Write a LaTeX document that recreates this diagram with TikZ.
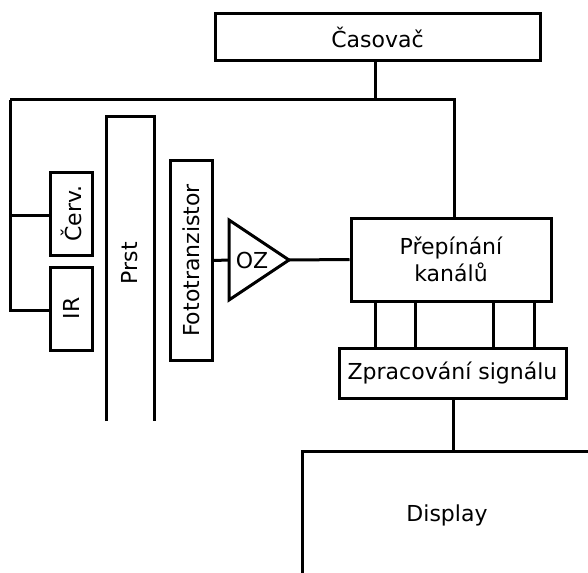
\documentclass[tikz,border=0pt]{standalone}
\usepackage{fontspec}
\setmainfont{DejaVu Sans}
\begin{document}
\begin{tikzpicture}[x=1pt,y=-1pt,line width=3pt,
  blk/.style={draw,rectangle,inner sep=0pt,align=center,font=\fontsize{22}{27}\selectfont},
  lbl/.style={inner sep=0pt,align=center,font=\fontsize{22}{27}\selectfont}]
\useasboundingbox (0,0) rectangle (588,572);
% blocks
\node[blk,minimum width=325pt,minimum height=47pt] (cas) at (377.5,37.5) {Časovač};
\node[blk,rotate=90,minimum width=83pt,minimum height=42pt] (cerv) at (71,213.5) {Červ.};
\node[blk,rotate=90,minimum width=83pt,minimum height=42pt] (ir) at (71,308.5) {IR};
\node[blk,rotate=90,minimum width=199pt,minimum height=42pt] (foto) at (191,260.5) {Fototranzistor};
\node[blk,minimum width=200pt,minimum height=83pt] (prep) at (451,259.5) {Přepínání\\kanálů};
\node[blk,minimum width=227pt,minimum height=50pt] (zpr) at (452.5,373) {Zpracování signálu};
% Prst (open at bottom)
\draw (106,421) -- (106,117) -- (154,117) -- (154,421);
\node[lbl,rotate=90] (prst) at (130,263) {Prst};
% OZ triangle
\coordinate (ozin) at (229,260);
\coordinate (ozout) at (289,260);
\draw[line join=miter] (229,220) -- (289,260) -- (229,300) -- cycle;
\node[lbl] (oz) at (252,260) {OZ};
% Display (open)
\coordinate (dtop) at (453,451);
\draw (302,573) -- (302,451) -- (590,451);
\node[lbl] (disp) at (447,515) {Display};
% connectors
\coordinate (tj) at (375,100);
\coordinate (tl) at (10,100);
\coordinate (tr) at (454,100);
\draw (cas.south -| tj) -- (tj);
\draw (tl) -- (tr) -- (tr |- prep.north);
\draw (tl) -- (10,310) -- (ir.north |- 0,310);
\draw (10,215) -- (cerv.north |- 0,215);
\draw (foto.south) -- (ozin);
\draw (ozout) -- (prep.west);
\foreach \xx in {375,415,493,534}
  \draw (\xx,0 |- prep.south) -- (\xx,0 |- zpr.north);
\draw (zpr.south -| dtop) -- (dtop);
\end{tikzpicture}
\end{document}
